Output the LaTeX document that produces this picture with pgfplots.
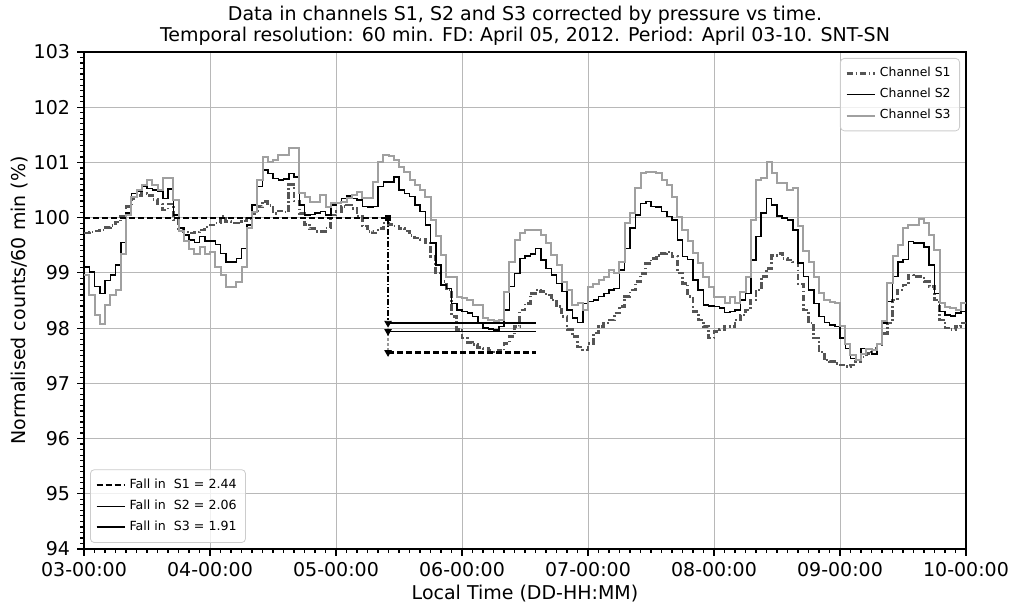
\documentclass[border=0pt]{standalone}
\usepackage{fontspec}
\setmainfont{DejaVu Sans}
\usepackage{pgfplots}
\usepackage{pgfplotstable}
\pgfplotsset{compat=1.18}
\definecolor{sone}{RGB}{85,85,85}
\definecolor{sthree}{RGB}{160,160,160}
\pgfplotstableread{
h s1 s2 s3
0 99.72 99.11 98.96
1 99.74 99.02 98.60
2 99.76 98.75 98.24
3 99.78 98.63 98.07
4 99.82 98.86 98.42
5 99.86 98.96 98.60
6 99.92 99.14 98.69
7 100.02 99.55 99.35
8 100.20 100.08 100.05
9 100.35 100.44 100.38
10 100.40 100.48 100.50
11 100.44 100.57 100.59
12 100.40 100.53 100.68
13 100.33 100.50 100.59
14 100.25 100.47 100.50
15 100.14 100.35 100.71
16 100.25 100.52 100.71
17 99.96 100.05 100.32
18 99.80 99.81 99.75
19 99.74 99.69 99.57
20 99.72 99.60 99.44
21 99.74 99.55 99.35
22 99.78 99.66 99.47
23 99.83 99.58 99.34
24 99.87 99.58 99.38
25 99.90 99.51 99.11
26 100.02 99.35 98.96
27 99.93 99.20 98.75
28 99.90 99.20 98.75
29 99.90 99.26 98.84
30 99.94 99.44 99.11
31 99.99 99.87 99.81
32 100.08 100.23 100.11
33 100.20 100.56 100.68
34 100.29 100.86 101.10
35 100.22 100.80 101.01
36 100.08 100.71 101.04
37 100.12 100.68 101.13
38 100.10 100.70 101.13
39 100.60 100.80 101.27
40 100.30 100.74 101.26
41 100.08 100.23 100.44
42 99.88 100.05 100.38
43 99.80 100.06 100.29
44 99.75 100.08 100.29
45 99.75 100.11 100.41
46 99.81 100.05 100.20
47 100.05 100.23 100.26
48 100.11 100.26 100.26
49 100.20 100.35 100.29
50 100.23 100.39 100.35
51 100.17 100.35 100.41
52 100.02 100.32 100.47
53 99.85 100.20 100.35
54 99.75 100.19 100.35
55 99.72 100.20 100.65
56 99.80 100.56 101.00
57 99.90 100.65 101.13
58 99.88 100.65 101.12
59 99.85 100.74 101.04
60 99.80 100.50 100.92
61 99.76 100.44 100.83
62 99.68 100.38 100.68
63 99.63 100.23 100.59
64 99.60 100.11 100.50
65 99.54 99.87 100.38
66 99.30 99.54 99.96
67 99.00 99.14 99.66
68 98.84 98.78 99.32
69 98.69 98.72 98.93
70 98.21 98.45 98.93
71 97.98 98.33 98.57
72 97.82 98.30 98.54
73 97.74 98.27 98.51
74 97.70 98.21 98.42
75 97.65 98.09 98.42
76 97.63 98.00 98.18
77 97.60 97.98 98.15
78 97.57 97.97 98.12
79 97.59 98.03 98.15
80 97.72 98.33 98.66
81 97.85 98.75 99.20
82 98.03 98.99 99.60
83 98.33 99.26 99.72
84 98.45 99.31 99.78
85 98.63 99.34 99.78
86 98.69 99.44 99.78
87 98.66 99.23 99.69
88 98.60 99.08 99.54
89 98.51 98.96 99.32
90 98.39 98.81 99.14
91 98.21 98.66 98.84
92 97.97 98.33 98.69
93 97.85 98.18 98.42
94 97.66 98.10 98.45
95 97.60 98.45 98.33
96 97.72 98.48 98.75
97 97.91 98.51 98.80
98 98.03 98.57 98.87
99 98.09 98.63 98.93
100 98.15 98.69 99.05
101 98.27 98.72 98.99
102 98.39 99.05 99.20
103 98.57 99.44 99.90
104 98.69 99.81 100.08
105 98.84 100.05 100.53
106 98.99 100.26 100.80
107 99.17 100.29 100.83
108 99.26 100.20 100.83
109 99.32 100.19 100.80
110 99.35 100.11 100.68
111 99.38 100.02 100.59
112 99.30 99.96 100.38
113 99.00 99.60 100.02
114 98.81 99.30 99.78
115 98.57 99.24 99.57
116 98.30 98.87 99.36
117 98.15 98.69 99.18
118 98.03 98.42 98.93
119 97.82 98.40 98.75
120 97.94 98.39 98.57
121 97.97 98.36 98.57
122 98.03 98.28 98.45
123 98.03 98.30 98.57
124 98.15 98.33 98.45
125 98.24 98.51 98.66
126 98.33 98.63 98.93
127 98.51 99.23 99.95
128 98.69 99.66 100.68
129 98.93 100.08 100.71
130 99.08 100.35 101.01
131 99.32 100.23 100.80
132 99.35 100.03 100.62
133 99.26 99.99 100.62
134 99.23 99.96 100.50
135 99.20 99.78 100.53
136 98.80 99.18 99.84
137 98.33 98.93 99.39
138 98.09 98.69 99.20
139 97.82 98.45 98.93
140 97.57 98.21 98.63
141 97.42 98.10 98.51
142 97.39 98.06 98.48
143 97.36 98.03 98.45
144 97.33 97.82 98.03
145 97.30 97.63 97.72
146 97.33 97.45 97.51
147 97.39 97.42 97.42
148 97.48 97.63 97.54
149 97.54 97.63 97.63
150 97.60 97.53 97.60
151 97.70 97.72 97.72
152 97.90 98.09 98.12
153 98.09 98.48 98.81
154 98.51 98.93 99.30
155 98.69 99.20 99.51
156 98.78 99.24 99.81
157 98.96 99.57 99.87
158 98.93 99.54 99.87
159 98.93 99.54 99.98
160 98.84 99.47 99.90
161 98.75 99.14 99.69
162 98.51 98.63 99.42
163 98.15 98.30 98.45
164 98.00 98.24 98.39
165 97.97 98.22 98.36
166 98.03 98.27 98.33
167 98.09 98.30 98.45
168 98.09 98.30 98.45
}\datatable

\pgfplotsset{
  commonaxis/.style={
    scale only axis, width=441pt, height=248.5pt,
    xmin=3, xmax=10, ymin=94, ymax=103,
  },
  shortlegend/.style={
    legend image code/.code={\draw[##1] (0pt,0pt) -- (14pt,0pt);}
  },
}

\begin{document}
\begin{tikzpicture}
\begin{axis}[
  name=main,
  commonaxis,
  xtick={3,4,5,6,7,8,9,10},
  xticklabels={03-00:00,04-00:00,05-00:00,06-00:00,07-00:00,08-00:00,09-00:00,10-00:00},
  ytick={94,95,96,97,98,99,100,101,102,103},
  minor x tick num=11, minor y tick num=9,
  tick align=outside, tick pos=left,
  major tick length=3.5pt, minor tick length=2pt,
  tick style={black, line width=0.6pt},
  grid=major, major grid style={black!28, line width=0.5pt},
  axis line style={line width=0.6pt},
  tick label style={font=\fontsize{9.5}{11}\selectfont},
  xticklabel style={yshift=0.5pt},
  label style={font=\fontsize{9.5}{11}\selectfont},
  xlabel={Local Time (DD-HH:MM)},
  ylabel={Normalised counts/60 min (\%)},
  xlabel style={yshift=2.8pt},
  ylabel style={yshift=-4pt},
  title style={font=\fontsize{9.5}{10.5}\selectfont, align=center, yshift=-6.5pt},
  title={Data in channels S1, S2 and S3 corrected by pressure vs time.\\Temporal resolution: 60 min. FD: April 05, 2012. Period: April 03-10. SNT-SN},
  /pgf/number format/assume math mode=true,
  shortlegend,
  legend cell align=left,
  legend style={at={(1,1)}, anchor=north east, xshift=-3pt, yshift=-3pt,
    draw=black!20, rounded corners=2pt, fill=white, fill opacity=0.8, text opacity=1,
    font=\fontsize{6.2}{7}\selectfont, row sep=0.3pt, inner sep=2.5pt},
]
\addplot[const plot, color=sone, line width=1.3pt, dash pattern=on 3.2pt off 1.3pt on 0.8pt off 1.3pt]
  table[x expr=3+\thisrow{h}/24, y=s1] {\datatable};
\addlegendentry{Channel S1}
\addplot[const plot, color=black, line width=0.75pt]
  table[x expr=3+\thisrow{h}/24, y=s2] {\datatable};
\addlegendentry{Channel S2}
\addplot[const plot, color=sthree, line width=1pt]
  table[x expr=3+\thisrow{h}/24, y=s3] {\datatable};
\addlegendentry{Channel S3}
\end{axis}

\begin{axis}[
  commonaxis,
  hide axis,
  unbounded coords=jump,
  shortlegend,
  legend cell align=left,
  legend style={at={(0,0)}, anchor=south west, xshift=3pt, yshift=3pt,
    draw=black!20, rounded corners=2pt, fill=white, fill opacity=0.8, text opacity=1,
    font=\fontsize{6.3}{7}\selectfont, row sep=0.3pt, inner sep=2.5pt},
]
\addplot[black, line width=1.1pt, dash pattern=on 3pt off 1.5pt]
  coordinates {(3,100) (5.413,100) (5.413,nan) (5.413,97.56) (6.587,97.56)};
\addlegendentry{Fall in\ \ S1 = 2.44}
\addplot[black, line width=0.6pt]
  coordinates {(5.413,97.94) (6.587,97.94)};
\addlegendentry{Fall in\ \ S2 = 2.06}
\addplot[black, line width=1pt]
  coordinates {(5.413,98.09) (6.587,98.09)};
\addlegendentry{Fall in\ \ S3 = 1.91}
\addplot[forget plot, black, line width=0.9pt, dash pattern=on 3pt off 1pt on 0.8pt off 1pt]
  coordinates {(5.413,100) (5.413,98.09)};
\addplot[forget plot, black!40, line width=0.9pt, dash pattern=on 1.5pt off 1pt]
  coordinates {(5.413,98.09) (5.413,97.56)};
\addplot[forget plot, only marks, mark=triangle*, mark size=1.8pt, mark options={rotate=180, black}]
  coordinates {(5.413,98.09) (5.413,97.94) (5.413,97.56)};
\addplot[forget plot, only marks, mark=square*, mark size=1.3pt, mark options={black}]
  coordinates {(5.413,100)};
\end{axis}
\pgfresetboundingbox
\path[use as bounding box] ([xshift=-42pt,yshift=-26.5pt]main.south west) rectangle ([xshift=23.5pt,yshift=26pt]main.north east);
\end{tikzpicture}
\end{document}
